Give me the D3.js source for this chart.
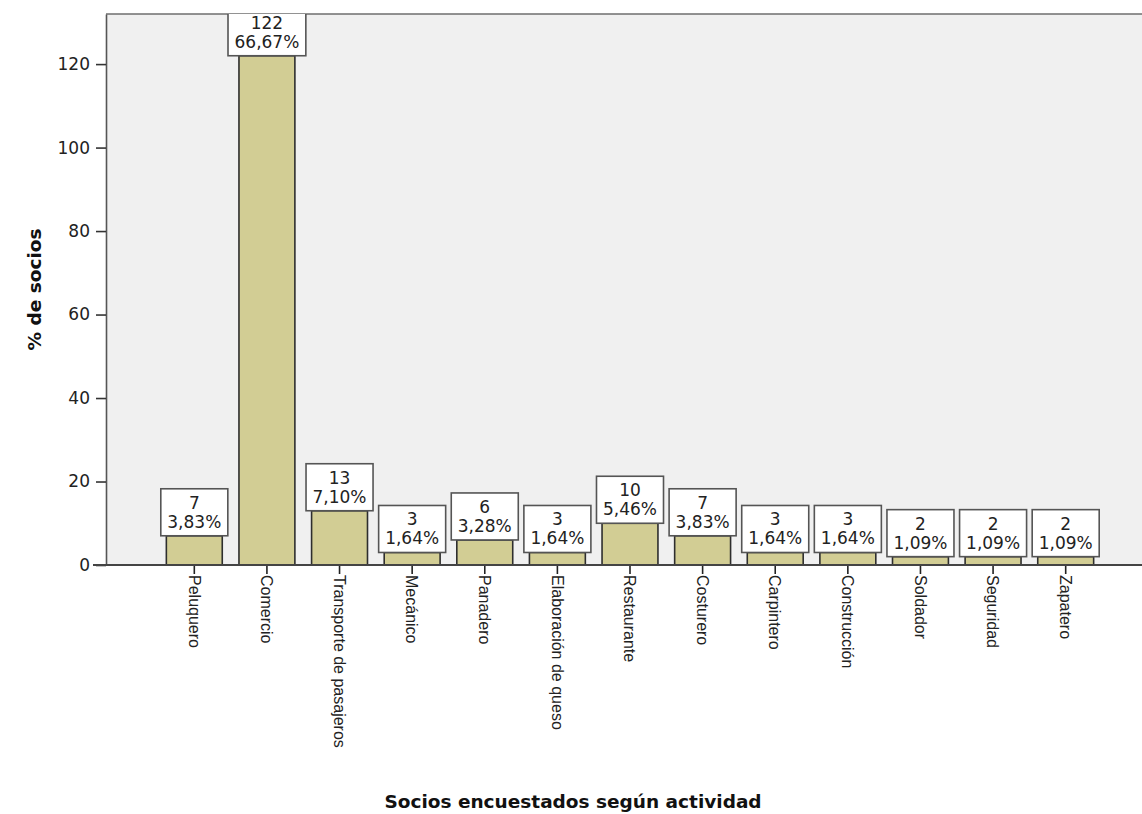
<!DOCTYPE html>
<html>
<head>
<meta charset="utf-8">
<script src="https://cdn.jsdelivr.net/npm/d3@7"></script>
<style>
  html, body { margin: 0; padding: 0; background: #ffffff; }
  svg { display: block; }
</style>
</head>
<body>
<script>
// Activity categories of surveyed members
const categories = [
  "Peluquero", "Comercio", "Transporte de pasajeros", "Mecánico", "Panadero",
  "Elaboración de queso", "Restaurante", "Costurero", "Carpintero",
  "Construcción", "Soldador", "Seguridad", "Zapatero"
];
// Member counts per activity
const counts = [7, 122, 13, 3, 6, 3, 10, 7, 3, 3, 2, 2, 2];
// Share of members per activity (%)
const percents = [3.83, 66.67, 7.10, 1.64, 3.28, 1.64, 5.46, 3.83, 1.64, 1.64, 1.09, 1.09, 1.09];
// Y axis tick values
const yTicks = [0, 20, 40, 60, 80, 100, 120];

const W = 1142, H = 814;
const plot = { left: 106, top: 14, right: 1142, bottom: 565 };

const svg = d3.select("body").append("svg")
  .attr("width", W).attr("height", H);

const x = d3.scaleBand()
  .domain(categories)
  .range([158, 1102])
  .paddingInner(0.23)
  .paddingOuter(0.115);

const y = d3.scaleLinear()
  .domain([0, 132])
  .range([plot.bottom, plot.top]);

// plot background
svg.append("rect")
  .attr("x", plot.left).attr("y", plot.top)
  .attr("width", plot.right - plot.left)
  .attr("height", plot.bottom - plot.top)
  .attr("fill", "#f0f0f0");

svg.append("defs").append("clipPath").attr("id", "plotClip")
  .append("rect")
  .attr("x", plot.left).attr("y", plot.top)
  .attr("width", plot.right - plot.left)
  .attr("height", plot.bottom - plot.top);

// bars
svg.append("g")
  .selectAll("rect")
  .data(categories)
  .join("rect")
  .attr("x", d => x(d))
  .attr("y", (d, i) => y(counts[i]))
  .attr("width", x.bandwidth())
  .attr("height", (d, i) => y(0) - y(counts[i]))
  .attr("fill", "#d2cd94")
  .attr("stroke", "#2e2e2e")
  .attr("stroke-width", 1.6);

// frame: top line
svg.append("line")
  .attr("x1", plot.left).attr("x2", plot.right)
  .attr("y1", plot.top).attr("y2", plot.top)
  .attr("stroke", "#6e6e6e").attr("stroke-width", 1.6);

// y axis
const yAxis = svg.append("g")
  .attr("transform", `translate(${plot.left},0)`)
  .call(d3.axisLeft(y).tickValues(yTicks).tickSize(10).tickPadding(6).tickSizeOuter(0));
yAxis.select(".domain").attr("stroke", "#555").attr("stroke-width", 1.6);
yAxis.selectAll(".tick line").attr("stroke", "#333").attr("stroke-width", 1.6);
yAxis.selectAll(".tick text")
  .attr("font-family", "DejaVu Sans, sans-serif")
  .attr("font-size", 17)
  .attr("fill", "#222");

// x axis
const xAxis = svg.append("g")
  .attr("transform", `translate(0,${plot.bottom})`)
  .call(d3.axisBottom(x).tickSize(9).tickSizeOuter(0));
xAxis.select(".domain").remove();
svg.append("line")
  .attr("x1", 93).attr("x2", plot.right)
  .attr("y1", plot.bottom).attr("y2", plot.bottom)
  .attr("stroke", "#444").attr("stroke-width", 1.8);
xAxis.selectAll(".tick line").attr("stroke", "#222").attr("stroke-width", 1.6);
xAxis.selectAll(".tick text")
  .attr("font-family", "Liberation Sans, Arial, sans-serif")
  .attr("font-size", 16)
  .attr("fill", "#222")
  .attr("text-anchor", "start")
  .attr("transform", "translate(0,10) rotate(90)")
  .attr("x", 0)
  .attr("y", 0)
  .attr("dy", "0.36em");

// value label boxes
const labelFont = 17;
const labels = svg.append("g").attr("clip-path", "url(#plotClip)");
const measure = svg.append("text")
  .attr("font-family", "DejaVu Sans, sans-serif")
  .attr("font-size", labelFont)
  .attr("visibility", "hidden");
const fmtPct = v => v.toFixed(2).replace(".", ",") + "%";

categories.forEach((c, i) => {
  const cx = x(c) + x.bandwidth() / 2;
  const top = y(counts[i]);
  const pctText = fmtPct(percents[i]);
  measure.text(pctText);
  const tw = measure.node().getComputedTextLength();
  const bw = tw + 13, bh = 47;
  const g = labels.append("g");
  g.append("rect")
    .attr("x", cx - bw / 2).attr("y", top - bh)
    .attr("width", bw).attr("height", bh)
    .attr("fill", "#ffffff")
    .attr("stroke", "#555")
    .attr("stroke-width", 1.6);
  g.append("text")
    .attr("x", cx).attr("y", top - bh + 20)
    .attr("text-anchor", "middle")
    .attr("font-family", "DejaVu Sans, sans-serif")
    .attr("font-size", labelFont)
    .attr("fill", "#222")
    .text(counts[i]);
  g.append("text")
    .attr("x", cx).attr("y", top - bh + 39)
    .attr("text-anchor", "middle")
    .attr("font-family", "DejaVu Sans, sans-serif")
    .attr("font-size", labelFont)
    .attr("fill", "#222")
    .text(pctText);
});
measure.remove();

// axis titles
svg.append("text")
  .attr("transform", `translate(41,${(plot.top + plot.bottom) / 2}) rotate(-90)`)
  .attr("text-anchor", "middle")
  .attr("font-family", "DejaVu Sans, sans-serif")
  .attr("font-weight", "bold")
  .attr("font-size", 18.5)
  .attr("fill", "#111")
  .text("% de socios");

svg.append("text")
  .attr("x", 573).attr("y", 808)
  .attr("text-anchor", "middle")
  .attr("font-family", "DejaVu Sans, sans-serif")
  .attr("font-weight", "bold")
  .attr("font-size", 18.5)
  .attr("fill", "#111")
  .text("Socios encuestados según actividad");
</script>
</body>
</html>
